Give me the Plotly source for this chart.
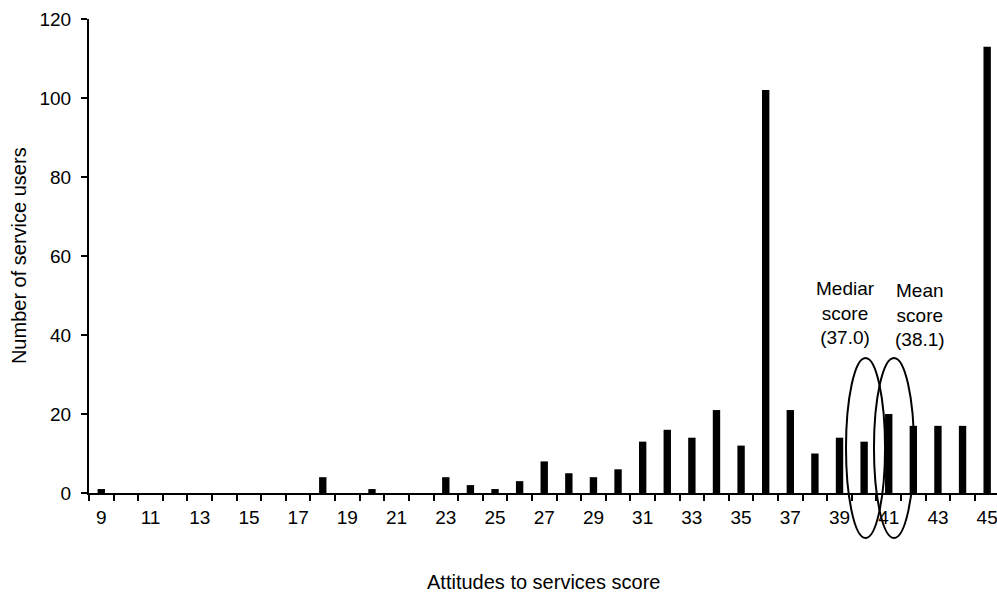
import plotly.graph_objects as go

scores = list(range(9, 46))
counts = [1, 0, 0, 0, 0, 0, 0, 0, 0, 4, 0, 1, 0, 0, 4, 2, 1, 3, 8, 5, 4, 6,
          13, 16, 14, 21, 12, 102, 21, 10, 14, 13, 20, 17, 17, 17, 113]
tick_vals = list(range(9, 46, 2))
tick_text = [str(v) for v in tick_vals]
y_ticks = [0, 20, 40, 60, 80, 100, 120]

FONT = "Liberation Sans, Arial, sans-serif"

fig = go.Figure()
fig.add_trace(go.Bar(x=scores, y=counts, width=0.3,
                     marker=dict(color="black", line=dict(width=0))))

fig.update_layout(
    width=997, height=597,
    margin=dict(l=89, r=0, t=19, b=104),
    paper_bgcolor="white", plot_bgcolor="white",
    showlegend=False,
    font=dict(family=FONT, size=19, color="black"),
    xaxis=dict(range=[8.5, 45.4], tickvals=tick_vals, ticktext=tick_text,
               ticks="outside", ticklen=6, tickcolor="rgba(0,0,0,0)",
               showgrid=False, zeroline=False,
               showline=True, linecolor="black", linewidth=2,
               tickfont=dict(size=19), automargin=False,
               ticklabeloverflow="allow",
               minor=dict(tickvals=[v + 0.5 for v in range(8, 46)],
                          ticks="outside", ticklen=6, tickwidth=2,
                          tickcolor="black", showgrid=False)),
    yaxis=dict(range=[0, 120], tickvals=y_ticks, ticks="outside", ticklen=6,
               tickwidth=2, tickcolor="black", showgrid=False, zeroline=False,
               showline=True, linecolor="black", linewidth=2,
               ticklabelstandoff=6,
               tickfont=dict(size=19), automargin=False),
)

# ellipses marking median and mean
fig.add_shape(type="circle", xref="paper", yref="paper",
              x0=0.8337, x1=0.8767, y0=-0.095, y1=0.285,
              line=dict(color="black", width=2))
fig.add_shape(type="circle", xref="paper", yref="paper",
              x0=0.8645, x1=0.9086, y0=-0.095, y1=0.285,
              line=dict(color="black", width=2))

fig.add_annotation(text="Mediar<br>score<br>(37.0)", xref="paper", yref="paper",
                   x=0.8326, y=0.38, xanchor="center", yanchor="middle",
                   showarrow=False, align="center", font=dict(size=19))
fig.add_annotation(text="Mean<br>score<br>(38.1)", xref="paper", yref="paper",
                   x=0.915, y=0.376, xanchor="center", yanchor="middle",
                   showarrow=False, align="center", font=dict(size=19))

fig.add_annotation(text="Attitudes to services score", xref="paper", yref="paper",
                   x=0.5, y=-0.188, xanchor="center", yanchor="middle",
                   showarrow=False, font=dict(size=20))
fig.add_annotation(text="Number of service users", xref="paper", yref="paper",
                   x=-0.077, y=0.5, xanchor="center", yanchor="middle",
                   showarrow=False, textangle=-90, font=dict(size=20))

fig.write_html("out.html", config={"displayModeBar": False},
               post_script="document.body.style.margin='0';")
